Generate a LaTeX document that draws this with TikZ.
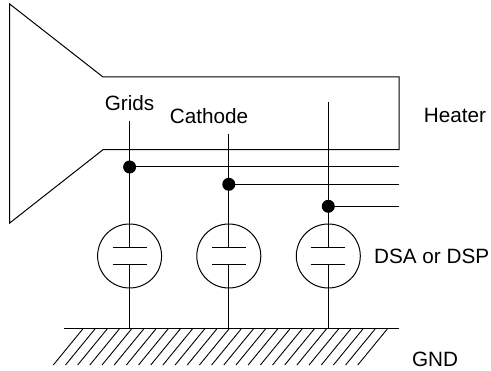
\documentclass[tikz,border=0pt]{standalone}
\usepackage{fontspec}
\setmainfont{Liberation Sans}
\tikzset{
  wire/.style={line width=1pt},
  tubelabel/.style={inner sep=0pt, font=\fontsize{20.7}{24}\selectfont},
  joint/.style={circle, fill=black, inner sep=0pt, minimum size=13pt},
  dsatube/.style={circle, draw, line width=1pt, inner sep=0pt, minimum size=64pt}
}
\begin{document}
\begin{tikzpicture}[x=1pt,y=-1pt]
  \useasboundingbox (0,0) rectangle (491,371);
  % envelope
  \draw[wire] (9.7,4) -- (103,77) -- (399,77) -- (399,149.7) -- (103,149.7) -- (9.7,223) -- cycle;
  % ground
  \coordinate (gndl) at (64,329);
  \coordinate (gndr) at (399,329);
  \draw[wire] (gndl) -- (gndr);
  \foreach \i in {0,...,25}
    \draw[line width=0.9pt] (53.3+12.18*\i,365) -- ++(29.5,-36);
  % tubes
  \foreach \name/\xpos/\ytop/\ydot in {grids/129.6/120.7/167, cathode/228.8/133.7/184.3, dsp/328.3/102.3/206.3} {
    \coordinate (\name top) at (\xpos,\ytop);
    \node[joint] (\name dot) at (\xpos,\ydot) {};
    \node[dsatube] (\name tube) at (\xpos,256) {};
    \coordinate (\name upper) at (\xpos,247.7);
    \coordinate (\name lower) at (\xpos,264.7);
    \coordinate (\name gnd) at (\xpos,329);
    \coordinate (\name end) at (399,\ydot);
    \draw[wire] (\name top) -- (\name upper);
    \draw[wire] (\name lower) -- (\name gnd);
    \draw[wire] (\name dot.center) -- (\name end);
    \draw[wire] ([xshift=-17pt]\name upper) -- ([xshift=17pt]\name upper);
    \draw[wire] ([xshift=-17pt]\name lower) -- ([xshift=17pt]\name lower);
  }
  % labels
  \node[tubelabel] (gridslabel) at (129.6,102.7) {Grids};
  \node[tubelabel] (cathodelabel) at (209,115.7) {Cathode};
  \node[tubelabel] (heaterlabel) at (455,115.7) {Heater};
  \node[tubelabel] (dsplabel) at (431.7,256) {DSA or DSP};
  \node[tubelabel] (gndlabel) at (435,359) {GND};
\end{tikzpicture}
\end{document}
